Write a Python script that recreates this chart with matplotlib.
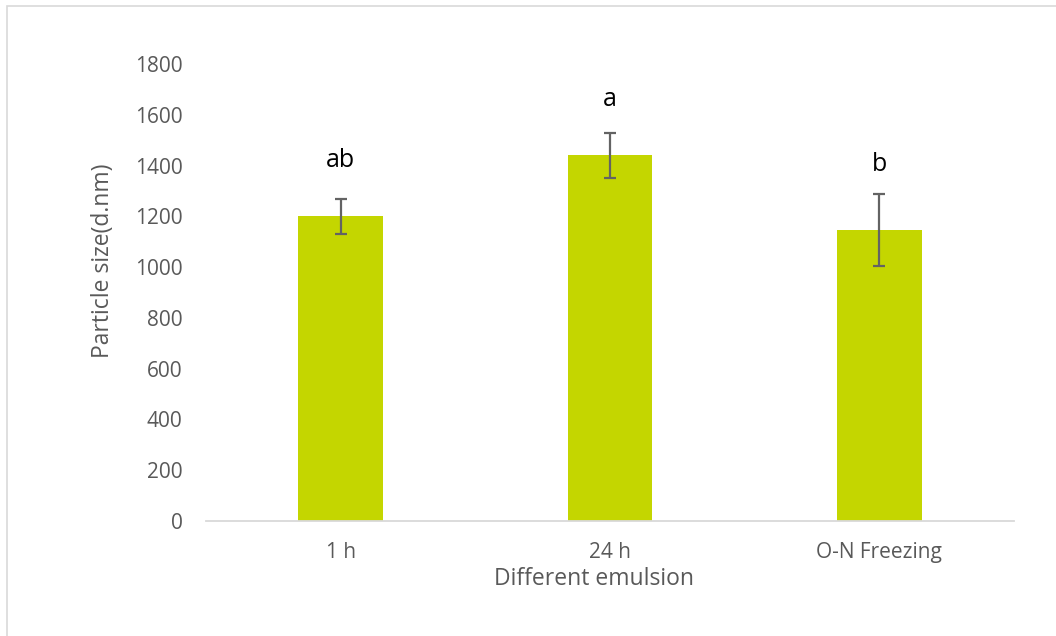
import matplotlib.pyplot as plt
from matplotlib.patches import Rectangle

# particle size per emulsion treatment
groups = ["1 h", "24 h", "O-N Freezing"]
size_nm = [1200, 1440, 1146]
size_err = [68, 88, 140]
letters = ["ab", "a", "b"]
letter_y = [1418, 1660, 1406]

plt.rcParams['font.family'] = ['Open Sans', 'DejaVu Sans']

fig = plt.figure(figsize=(10.56, 6.36), dpi=100)
ax = fig.add_axes([0.1951, 0.1808, 0.9602 - 0.1951, 0.8994 - 0.1808])

# outer frame
fig.patches.append(Rectangle((7 / 1056, -0.1), 1.2, 1 - 6 / 636 + 0.1,
                             transform=fig.transFigure, fill=False,
                             edgecolor='#D9D9D9', linewidth=1.2))

x = range(len(groups))
ax.bar(x, size_nm, width=0.315, color='#C4D600', zorder=2)
ax.errorbar(x, size_nm, yerr=size_err, fmt='none', ecolor='#636363',
            elinewidth=1.6, capsize=4.5, capthick=1.6, zorder=3)

for i, t in enumerate(letters):
    ax.text(i, letter_y[i], t, ha='center', va='center', fontsize=18, color='black')

ax.set_xlim(-0.5, 2.5)
ax.set_ylim(0, 1800)
ax.set_yticks(range(0, 1801, 200))
ax.set_xticks(list(x))
ax.set_xticklabels(groups)

for s in ['top', 'right', 'left']:
    ax.spines[s].set_visible(False)
ax.spines['bottom'].set_color('#D9D9D9')
ax.spines['bottom'].set_linewidth(1.3)

ax.tick_params(axis='both', length=0, labelsize=15, labelcolor='#595959')
ax.tick_params(axis='y', pad=17)
ax.tick_params(axis='x', pad=15)

ax.set_xlabel("Different emulsion", fontsize=16.5, color='#595959', va='center')
ax.set_ylabel("Particle size(d.nm)", fontsize=16.5, color='#595959', va='center')
ax.xaxis.set_label_coords(0.4796, -0.127)
ax.yaxis.set_label_coords(-0.1275, 0.569)

fig.savefig("out.png", dpi=100)
